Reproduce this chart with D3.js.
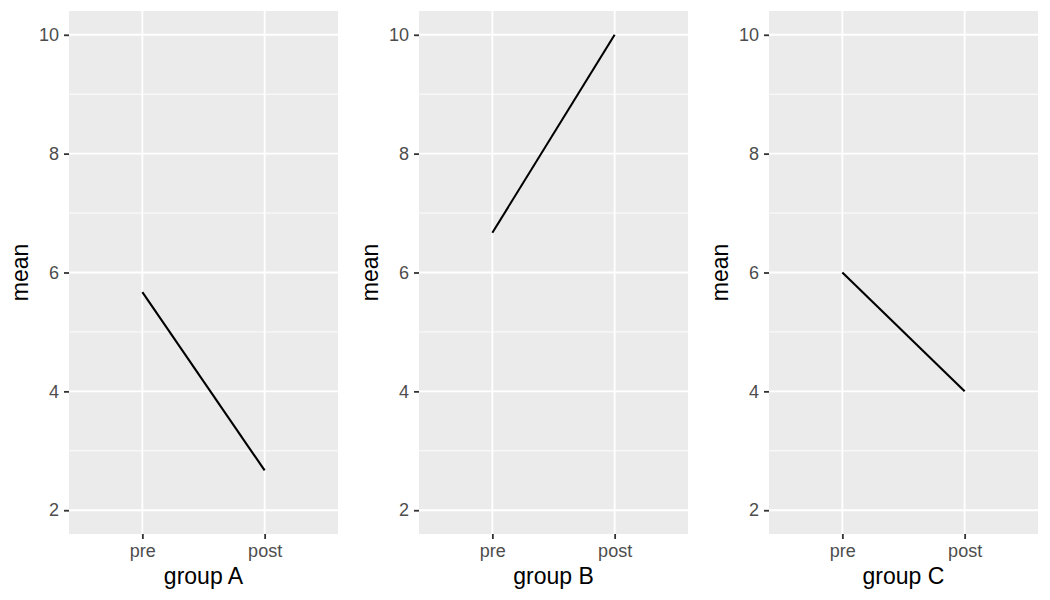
<!DOCTYPE html>
<html>
<head>
<meta charset="utf-8">
<script src="https://cdn.jsdelivr.net/npm/d3@7"></script>
<style>
  body { margin: 0; background: #fff; }
  text { font-family: "Liberation Sans", Arial, sans-serif; }
</style>
</head>
<body>
<div id="chart"></div>
<script>
// data
var groups = ["group A", "group B", "group C"];
var times = ["pre", "post"];
var preMeans = [5.67, 6.67, 6.0];
var postMeans = [2.67, 10.0, 4.0];
var yTicks = [2, 4, 6, 8, 10];
var yMinor = [3, 5, 7, 9];

var W = 1050, H = 600;
var plotW = 350;
var margin = {top: 11, right: 12, bottom: 66, left: 69},
    width = plotW - margin.left - margin.right,
    height = H - margin.top - margin.bottom;

var svg = d3.select("#chart")
    .append("svg")
    .attr("width", W)
    .attr("height", H);

var x = d3.scalePoint().domain(times).range([0, width]).padding(0.6);
var y = d3.scaleLinear().domain([1.6, 10.4]).range([height, 0]);

groups.forEach(function(g, i) {
  var p = svg.append("g")
    .attr("transform", "translate(" + (i * plotW + margin.left) + "," + margin.top + ")");

  p.append("rect")
    .attr("width", width)
    .attr("height", height)
    .attr("fill", "#ebebeb");

  // minor grid
  p.selectAll(".minor").data(yMinor).enter().append("line")
    .attr("x1", 0).attr("x2", width)
    .attr("y1", function(d){return y(d);})
    .attr("y2", function(d){return y(d);})
    .attr("stroke", "#fff").attr("stroke-width", 0.9);

  // major grid
  p.selectAll(".major").data(yTicks).enter().append("line")
    .attr("x1", 0).attr("x2", width)
    .attr("y1", function(d){return y(d);})
    .attr("y2", function(d){return y(d);})
    .attr("stroke", "#fff").attr("stroke-width", 1.8);

  p.selectAll(".vmajor").data(times).enter().append("line")
    .attr("x1", function(d){return x(d);})
    .attr("x2", function(d){return x(d);})
    .attr("y1", 0).attr("y2", height)
    .attr("stroke", "#fff").attr("stroke-width", 1.8);

  // axes
  var ya = p.append("g")
    .call(d3.axisLeft(y).tickValues(yTicks).tickSize(5).tickPadding(5));
  ya.select(".domain").remove();
  ya.selectAll("line").attr("stroke", "#333").attr("stroke-width", 1.8);
  ya.selectAll("text").attr("fill", "#4d4d4d").style("font-size", "18px");

  var xa = p.append("g")
    .attr("transform", "translate(0," + height + ")")
    .call(d3.axisBottom(x).tickSize(5).tickPadding(5.5));
  xa.select(".domain").remove();
  xa.selectAll("line").attr("stroke", "#333").attr("stroke-width", 1.8);
  xa.selectAll("text").attr("fill", "#4d4d4d").style("font-size", "18px");

  // line
  var pts = [{t: "pre", v: preMeans[i]}, {t: "post", v: postMeans[i]}];
  p.append("path")
    .datum(pts)
    .attr("fill", "none")
    .attr("stroke", "#000")
    .attr("stroke-width", 2.1)
    .attr("d", d3.line()
      .x(function(d){return x(d.t);})
      .y(function(d){return y(d.v);}));

  // titles
  p.append("text")
    .attr("x", width / 2)
    .attr("y", height + 49.5)
    .attr("text-anchor", "middle")
    .style("font-size", "23px")
    .attr("fill", "#000")
    .text(g);

  p.append("text")
    .attr("transform", "translate(" + (-41) + "," + (height / 2) + ") rotate(-90)")
    .attr("text-anchor", "middle")
    .style("font-size", "23px")
    .attr("fill", "#000")
    .text("mean");
});
</script>
</body>
</html>
